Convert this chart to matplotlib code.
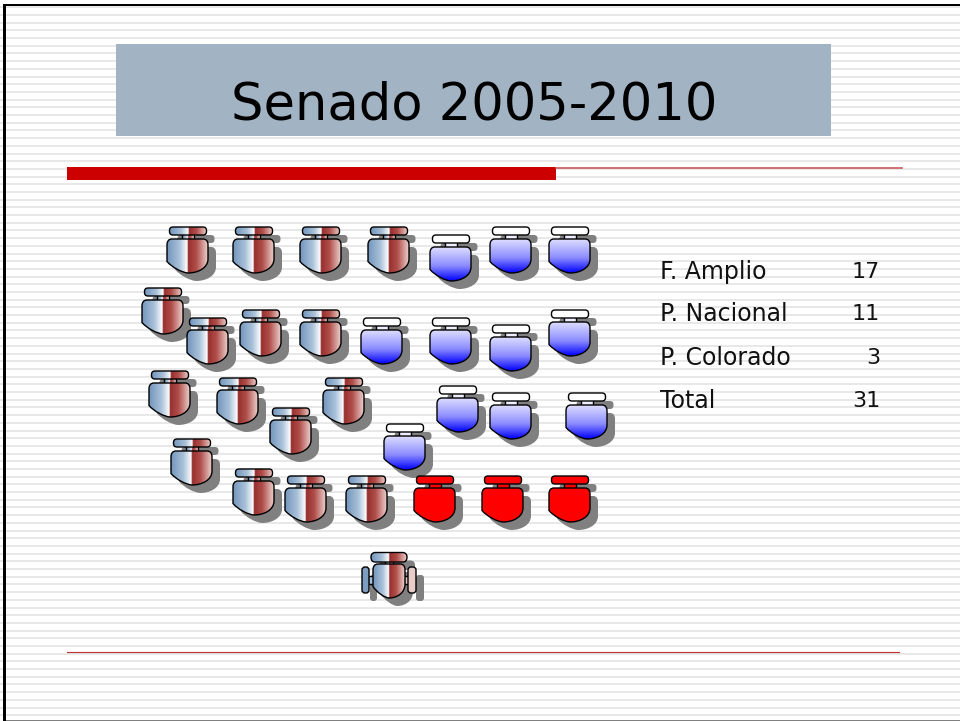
import numpy as np
import matplotlib
matplotlib.use("Agg")
import matplotlib.pyplot as plt
from matplotlib.colors import LinearSegmentedColormap
from matplotlib.patches import PathPatch, Rectangle
from matplotlib.path import Path
from matplotlib.transforms import Affine2D

title = "Senado 2005-2010"
parties = ["F. Amplio", "P. Nacional", "P. Colorado", "Total"]
seats = ["17", "11", "3", "31"]

# seat anchors (centre of the backrest, top edge)
fa_x = [188, 254, 321, 389, 163, 208, 261, 321, 170, 238, 291, 344, 192, 254, 306, 367]
fa_y = [227, 227, 227, 227, 288, 318, 310, 310, 371, 378, 408, 378, 439, 469, 476, 476]
pn_x = [451, 511, 570, 382, 451, 511, 570, 405, 458, 511, 587]
pn_y = [235, 227, 227, 318, 318, 325, 310, 424, 386, 393, 393]
pc_x = [435, 503, 570]
pc_y = [476, 476, 476]
pres_x = [389]
pres_y = [552]

M, L, C3, C4, Z = Path.MOVETO, Path.LINETO, Path.CURVE3, Path.CURVE4, Path.CLOSEPOLY


def rounded(x0, y0, x1, y1, r):
    v = [(x0+r, y0), (x1-r, y0), (x1, y0), (x1, y0+r), (x1, y1-r), (x1, y1), (x1-r, y1),
         (x0+r, y1), (x0, y1), (x0, y1-r), (x0, y0+r), (x0, y0), (x0+r, y0), (x0+r, y0)]
    c = [M, L, C3, C3, L, C3, C3, L, C3, C3, L, C3, C3, Z]
    return Path(v, c)


def body(x0, x1):
    return Path([(x0+5, 12), (x1-5, 12),
                 (x1-1.5, 12), (x1, 14.5), (x1, 18),
                 (x1, 32),
                 (x1, 41), (x1*0.5, 46), (0, 46),
                 (x0*0.3, 45.5), (x0*0.75, 40.5), (x0, 34.5),
                 (x0, 18),
                 (x0, 14.5), (x0+1.5, 12), (x0+5, 12),
                 (x0+5, 12)],
                [M, L, C4, C4, C4, L, C4, C4, C4, C4, C4, C4, L, C4, C4, C4, Z])


BODY = body(-21, 20)
NECK = Path([(-6, 6), (6, 6), (6, 14), (-6, 14), (-6, 6)], [M, L, L, L, Z])
BAR = rounded(-18.5, 0, 18.5, 8, 3.5)

PRES_BODY = body(-16, 16)
PRES_NECK = Path([(-4, 8), (4, 8), (4, 14), (-4, 14), (-4, 8)], [M, L, L, L, Z])
PRES_BAR = Path([(-14, 0.5), (14, 0.5), (18, 1), (18, 5), (18, 10), (14, 10), (-14, 10),
                 (-18, 10), (-18, 5), (-18, 1), (-14, 0.5), (-14, 0.5)],
                [M, L, C3, C3, C3, C3, L, C3, C3, C3, C3, Z])
ARM_L = rounded(-27, 15, -20, 41, 3)
ARM_R = rounded(19, 15, 27, 41, 3)
STUB_L = Path([(-21, 24), (-15, 24), (-15, 32), (-21, 32), (-21, 24)], [M, L, L, L, Z])
STUB_R = Path([(15, 24), (20, 24), (20, 32), (15, 32), (15, 24)], [M, L, L, L, Z])

fa_cmap = LinearSegmentedColormap.from_list(
    "fa", [(0, "#7396bd"), (0.3, "#a9c1d8"), (0.5, "#ffffff"), (0.515, "#962e2e"),
           (0.72, "#b04e4a"), (1, "#ecd0cc")])
pn_cmap = LinearSegmentedColormap.from_list(
    "pn", [(0, "#dcdcff"), (0.55, "#8c8cff"), (1, "#0000ff")])

horiz = np.linspace(0, 1, 128).reshape(1, -1)
vert = np.linspace(0, 1, 64).reshape(-1, 1)


def draw_part(ax, path, cx, cy, fill, z, arrays=None):
    t = Affine2D().translate(cx, cy) + ax.transData
    patch = PathPatch(path, transform=t, facecolor=fill if arrays is None else "none",
                      edgecolor="black", lw=1.0, zorder=z + 0.05)
    if arrays is not None:
        box = path.get_extents()
        im = ax.imshow(arrays[0], cmap=arrays[1], aspect="auto", zorder=z, interpolation="bilinear",
                       extent=(cx + box.x0, cx + box.x1, cy + box.y1, cy + box.y0), vmin=0, vmax=1)
        clip = PathPatch(path, transform=t, facecolor="none", edgecolor="none")
        ax.add_patch(clip)
        im.set_clip_path(clip)
    ax.add_patch(patch)


def draw_seat(ax, cx, cy, kind, arms=False):
    bar, neck, seat = (PRES_BAR, PRES_NECK, PRES_BODY) if arms else (BAR, NECK, BODY)
    parts = [neck, bar, seat]
    if arms:
        parts = [STUB_L, STUB_R, ARM_L, ARM_R] + parts
    for p in parts:
        shadow = PathPatch(p, transform=Affine2D().translate(cx + 8, cy + 8) + ax.transData,
                           facecolor="#808080", edgecolor="none", zorder=3)
        ax.add_patch(shadow)
    if arms:
        for p, c in [(STUB_L, "#a9c0d6"), (STUB_R, "#e6c4c0"), (ARM_L, "#7c9dc0"), (ARM_R, "#e8ccc8")]:
            draw_part(ax, p, cx, cy, c, 4)
    if kind == "fa":
        draw_part(ax, neck, cx, cy, None, 5, (horiz, fa_cmap))
        draw_part(ax, bar, cx, cy, None, 5.2, (horiz, fa_cmap))
        draw_part(ax, seat, cx, cy, None, 5.2, (horiz, fa_cmap))
    elif kind == "pn":
        draw_part(ax, neck, cx, cy, "#eeeeff", 5)
        draw_part(ax, bar, cx, cy, "white", 5.2)
        draw_part(ax, seat, cx, cy, None, 5.2, (vert, pn_cmap))
    else:
        draw_part(ax, neck, cx, cy, "#ff0000", 5)
        draw_part(ax, bar, cx, cy, "#ff0000", 5.2)
        draw_part(ax, seat, cx, cy, "#ff0000", 5.2)


fig = plt.figure(figsize=(9.6, 7.21), dpi=100)
ax = fig.add_axes([0, 0, 1, 1])
ax.axis("off")

# striped background
for y in np.arange(6.3, 721, 7.695):
    ax.add_patch(Rectangle((0, y), 960, 2, color="#e8e8e8", lw=0, zorder=0))

# frame, cut off on the right
ax.add_patch(Rectangle((3, 3.5), 957, 2.6, color="black", lw=0, zorder=1))
ax.add_patch(Rectangle((3, 3.5), 3, 717.5, color="black", lw=0, zorder=1))
ax.add_patch(Rectangle((6, 720), 954, 1, color="#808080", lw=0, zorder=1))

ax.add_patch(Rectangle((116, 44), 715, 92, color="#a2b3c4", lw=0, zorder=1))
ax.text(474, 105, title, fontsize=36.8, family="DejaVu Sans", ha="center", va="center", color="black", zorder=2)

ax.add_patch(Rectangle((67, 167), 489, 13, color="#cc0000", lw=0, zorder=2))
ax.plot([556, 902], [168, 168], color="#c85a5a", lw=1.2, zorder=2)
ax.plot([67, 899], [651.5, 651.5], color="#c03030", lw=0.8, zorder=2)

for x, y in zip(fa_x, fa_y):
    draw_seat(ax, x, y, "fa")
for x, y in zip(pn_x, pn_y):
    draw_seat(ax, x, y, "pn")
for x, y in zip(pc_x, pc_y):
    draw_seat(ax, x, y, "pc")
for x, y in zip(pres_x, pres_y):
    draw_seat(ax, x, y, "fa", arms=True)

row_y = [272, 314, 358, 401]
for name, n, y in zip(parties, seats, row_y):
    ax.text(660, y, name, fontsize=17, family="DejaVu Sans", ha="left", va="center", color="#111111", zorder=2)
    ax.text(880, y, n, fontsize=16, family="DejaVu Sans", ha="right", va="center", color="#111111", zorder=2)

ax.set_xlim(0, 960)
ax.set_ylim(721, 0)
fig.savefig("out.png", dpi=100)
